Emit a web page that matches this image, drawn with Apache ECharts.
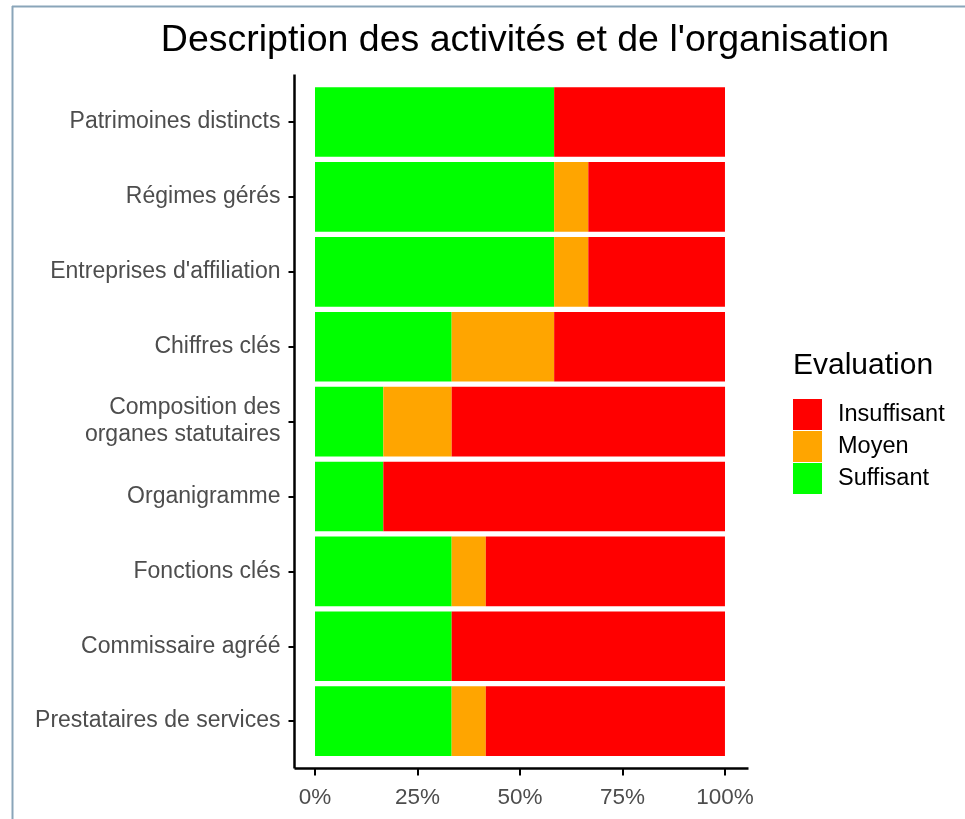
<!DOCTYPE html>
<html>
<head>
<meta charset="utf-8">
<script src="https://cdn.jsdelivr.net/npm/echarts@6/dist/echarts.min.js"></script>
<style>
  html, body { margin: 0; padding: 0; background: #fff; }
  #chart { width: 965px; height: 819px; }
</style>
</head>
<body>
<div id="chart"></div>
<script>
// categories, top to bottom
const categories = [
  'Patrimoines distincts',
  'Régimes gérés',
  "Entreprises d'affiliation",
  'Chiffres clés',
  'Composition des\norganes statutaires',
  'Organigramme',
  'Fonctions clés',
  'Commissaire agréé',
  'Prestataires de services'
]
// share of evaluations, in %
const suffisant = [58.33, 58.33, 58.33, 33.33, 16.67, 16.67, 33.33, 33.33, 33.33]
const moyen = [0, 8.33, 8.33, 25, 16.67, 0, 8.33, 0, 8.33]
const insuffisant = [41.67, 33.33, 33.33, 41.67, 66.67, 83.33, 58.33, 66.67, 58.33]
const xTicks = [0, 25, 50, 75, 100]

const gridLeft = 294.5
const gridTop = 84.6
const gridWidth = 451
const gridHeight = 674
const axisColor = '#000'
const labelColor = '#4d4d4d'
const font = 'Liberation Sans, Arial, sans-serif'

const chart = echarts.init(document.getElementById('chart'))

const makeSeries = (name, data, color) => ({
  name: name,
  type: 'bar',
  stack: 'total',
  barCategoryGap: '7%',
  itemStyle: { color: color },
  emphasis: { disabled: true },
  data: data
})

const option = {
  animation: false,
  backgroundColor: '#fff',
  textStyle: { fontFamily: font },
  title: {
    text: "Description des activités et de l'organisation",
    left: 520,
    textAlign: 'center',
    top: 17,
    textStyle: {
      fontSize: 37.5,
      fontWeight: 'normal',
      color: '#000',
      fontFamily: font
    }
  },
  legend: {
    data: ['Insuffisant', 'Moyen', 'Suffisant'],
    orient: 'vertical',
    left: 793,
    top: 399,
    padding: 0,
    itemWidth: 29,
    itemHeight: 31,
    itemGap: 1,
    selectedMode: false,
    icon: 'rect',
    textStyle: { fontSize: 23.5, color: '#000', padding: [0, 0, 0, 11] }
  },
  grid: {
    left: gridLeft,
    top: gridTop,
    width: gridWidth,
    height: gridHeight,
    containLabel: false
  },
  xAxis: {
    type: 'value',
    min: -5,
    max: 105,
    offset: 10,
    splitLine: { show: false },
    axisLine: { show: false },
    axisTick: {
      show: true,
      length: 7,
      lineStyle: { color: axisColor, width: 2 },
      customValues: xTicks
    },
    axisLabel: {
      fontSize: 22.5,
      color: labelColor,
      margin: 18,
      customValues: xTicks,
      formatter: v => v + '%'
    }
  },
  yAxis: {
    type: 'category',
    data: categories,
    inverse: true,
    axisLine: { show: false, onZero: false },
    axisTick: {
      show: true,
      alignWithLabel: true,
      length: 6,
      lineStyle: { color: axisColor, width: 2 }
    },
    axisLabel: {
      fontSize: 23,
      color: labelColor,
      margin: 14,
      lineHeight: 27,
      align: 'right'
    }
  },
  graphic: [
    // frame around the picture
    { type: 'line', shape: { x1: 12, y1: 6.5, x2: 965, y2: 6.5 }, style: { stroke: '#8aa5b9', lineWidth: 2 } },
    { type: 'line', shape: { x1: 12.5, y1: 6, x2: 12.5, y2: 819 }, style: { stroke: '#8aa5b9', lineWidth: 2 } },
    // axis lines (ggplot style, extending past the bars)
    { type: 'line', shape: { x1: gridLeft, y1: gridTop - 10, x2: gridLeft, y2: gridTop + gridHeight + 10 }, style: { stroke: axisColor, lineWidth: 2.5 } },
    { type: 'line', shape: { x1: gridLeft, y1: gridTop + gridHeight + 10, x2: gridLeft + gridWidth + 3, y2: gridTop + gridHeight + 10 }, style: { stroke: axisColor, lineWidth: 2.5 } },
    // legend title
    { type: 'text', left: 793, top: 351, style: { text: 'Evaluation', fontSize: 30, fill: '#000', fontFamily: font } }
  ],
  series: [
    makeSeries('Suffisant', suffisant, '#00ff00'),
    makeSeries('Moyen', moyen, '#ffa500'),
    makeSeries('Insuffisant', insuffisant, '#ff0000')
  ]
}

chart.setOption(option)
</script>
</body>
</html>
